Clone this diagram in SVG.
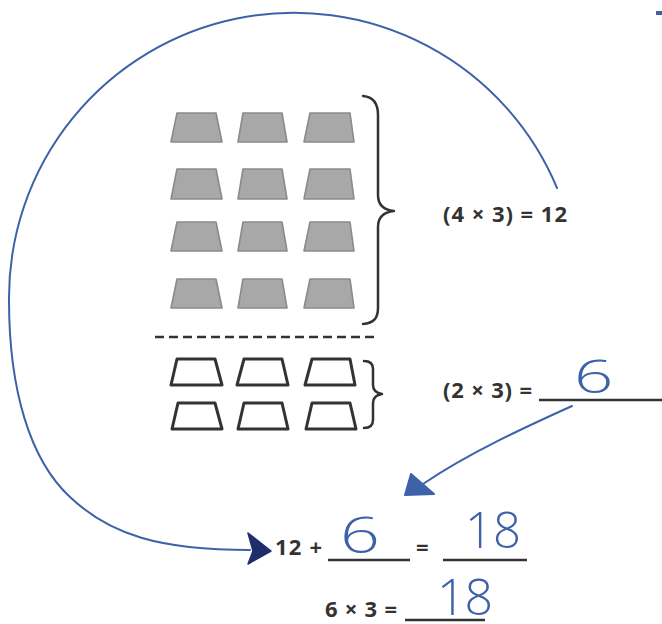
<svg xmlns="http://www.w3.org/2000/svg" width="662" height="624" viewBox="0 0 662 624">
<style>
.g{fill:#a8a8a8;stroke:#8a8a8a;stroke-width:1.6;stroke-linejoin:round}
.w{fill:#fff;stroke:#333;stroke-width:3;stroke-linejoin:round}
.br{fill:none;stroke:#333;stroke-width:2.5;stroke-linecap:round;stroke-linejoin:round}
.t{font-family:"Open Sans","Liberation Sans",sans-serif;font-weight:700;font-size:22px;fill:#333}
.h{font-family:"Open Sans","Liberation Sans",sans-serif;font-weight:300;fill:#3d62a8}
.bl{fill:none;stroke:#3d62a8;stroke-width:2;stroke-linecap:round}
.ul{stroke:#333;stroke-width:2.5}
</style>
<rect width="662" height="624" fill="#fff"/>
<g id="shaded">
<polygon class="g" points="171,142 177,113 216,113 222,142"/>
<polygon class="g" points="238,142 243,113 282,113 287,142"/>
<polygon class="g" points="304,142 310,113 350,113 354,142"/>
<polygon class="g" points="171,199 177,169 216,169 222,199"/>
<polygon class="g" points="238,199 243,169 282,169 287,199"/>
<polygon class="g" points="304,199 310,169 350,169 354,199"/>
<polygon class="g" points="171,251 177,222 216,222 222,251"/>
<polygon class="g" points="238,251 243,222 282,222 287,251"/>
<polygon class="g" points="304,251 310,222 350,222 354,251"/>
<polygon class="g" points="171,308 177,279 216,279 222,308"/>
<polygon class="g" points="238,308 243,279 282,279 287,308"/>
<polygon class="g" points="304,308 310,279 350,279 354,308"/>
</g>
<g id="brace-big">
<path class="br" d="M363,96 C374,97 378,104 378,115 L378,195 C378,205 384,210 394,211 C384,212 378,217 378,227 L378,308 C378,318 374,323 363,324"/>
</g>
<g id="divider">
<line x1="155" y1="337" x2="378" y2="337" stroke="#333" stroke-width="2.5" stroke-dasharray="9,5"/>
</g>
<g id="outline">
<polygon class="w" points="171,385 177,359 215,359 222,385"/>
<polygon class="w" points="237,385 244,359 282,359 288,385"/>
<polygon class="w" points="305,385 312,359 350,359 355,385"/>
<polygon class="w" points="172,429 178,403 215,403 222,429"/>
<polygon class="w" points="238,429 244,403 282,403 288,429"/>
<polygon class="w" points="306,429 312,403 350,403 356,429"/>
</g>
<g id="brace-small">
<path class="br" d="M364,361 C370,361 373,364 373,369 L373,385 C373,390 376,393 382,394 C376,395 373,398 373,403 L373,420 C373,425 370,428 364,428"/>
</g>
<g id="label-top">
<text class="t" x="443" y="222" textLength="124" lengthAdjust="spacing">(4 × 3) = 12</text>
</g>
<g id="label-mid">
<text class="t" x="443" y="398" textLength="89" lengthAdjust="spacing">(2 × 3) =</text>
<line class="ul" x1="539" y1="400" x2="662" y2="400"/>
<text class="h" font-size="46" transform="translate(574,393) scale(1.5,1)">6</text>
</g>
<g id="equation">
<text class="t" x="275" y="555" textLength="47" lengthAdjust="spacing">12 +</text>
<line class="ul" x1="328" y1="560" x2="410" y2="560"/>
<text class="h" font-size="50" transform="translate(340,553) scale(1.4,1)">6</text>
<text class="t" x="416" y="555">=</text>
<line class="ul" x1="443" y1="560" x2="527" y2="560"/>
<text class="h" font-size="49" x="465" y="548" textLength="56" lengthAdjust="spacing">18</text>
</g>
<g id="product">
<text class="t" x="325" y="617" textLength="72" lengthAdjust="spacing">6 × 3 =</text>
<line class="ul" x1="405" y1="620" x2="485" y2="620"/>
<text class="h" font-size="50" x="437" y="615" textLength="56" lengthAdjust="spacing">18</text>
</g>
<g id="connectors">
<path class="bl" d="M557,188 A285,285 0 0 0 9,300 C9,390 30,460 70,497 C110,535 160,550 250,550"/>
<polygon points="248,533 271,551 248,564 253,551" fill="#1f2d6b" stroke="#1f2d6b" stroke-width="1.5" stroke-linejoin="round"/>
<path class="bl" d="M572,406 C530,425 470,452 423,484" stroke-width="2.5"/>
<polygon points="411,474 405,495 434,494" fill="#3d62a8" stroke="#3d62a8" stroke-width="2" stroke-linejoin="round"/>
<rect x="656" y="11" width="6" height="4" fill="#3d62a8"/>
</g>
</svg>
